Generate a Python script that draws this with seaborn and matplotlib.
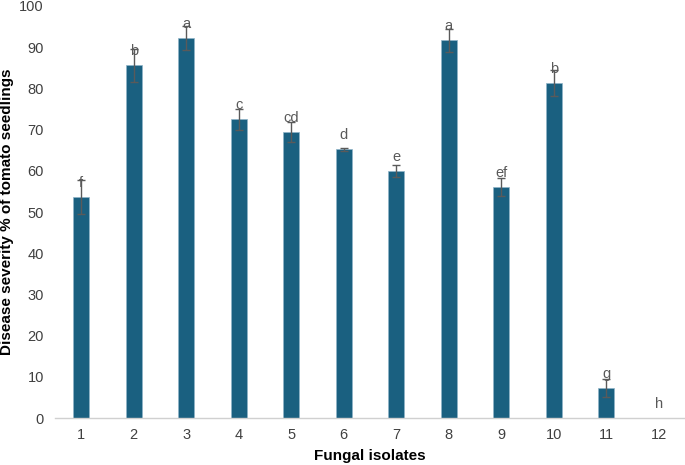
import matplotlib
matplotlib.use("Agg")
import matplotlib.pyplot as plt
import seaborn as sns
import pandas as pd

isolates = ["1", "2", "3", "4", "5", "6", "7", "8", "9", "10", "11", "12"]
severity = [53.6, 85.6, 92.2, 72.5, 69.4, 65.2, 60.0, 91.7, 56.1, 81.3, 7.2, 0.0]
errors = [4.2, 4.0, 3.0, 2.6, 2.4, 0.3, 1.45, 2.8, 2.2, 3.1, 2.2, 0.0]
letters = ["f", "b", "a", "c", "cd", "d", "e", "a", "ef", "b", "g", "h"]

df = pd.DataFrame({"isolate": isolates, "severity": severity, "err": errors})
df["pos"] = range(len(df))

sns.set_style("white")
plt.rcParams["font.family"] = ["Liberation Sans", "DejaVu Sans"]

fig = plt.figure(figsize=(6.85, 4.65), dpi=100)
ax = fig.add_axes([55 / 685, 47 / 465, 630 / 685, 412 / 465])

sns.barplot(data=df, x="isolate", y="severity", color="#1A6080", width=0.31,
            saturation=1, errorbar=None, edgecolor="#8FB4C8", linewidth=0.5, ax=ax)

eb = df[df["err"] > 0]
ax.errorbar(eb["pos"], eb["severity"], yerr=eb["err"], fmt="none", ecolor="#5A5A5A",
            elinewidth=1.0, capsize=2.6, capthick=1.0, zorder=3)

for x, v, lab in zip(df["pos"], severity, letters):
    ax.annotate(lab, (x, v), xytext=(0, 14), textcoords="offset pixels",
                ha="center", va="center", fontsize=10.5, color="#595959", zorder=4)

ax.set_ylim(0, 100)
ax.set_xlim(-0.5, len(isolates) - 0.5)
ax.set_yticks(range(0, 101, 10))
ax.tick_params(axis="both", length=0, labelsize=10.5, labelcolor="#404040")
ax.tick_params(axis="y", pad=8)
ax.tick_params(axis="x", pad=7)

for s in ["top", "right", "left"]:
    ax.spines[s].set_visible(False)
ax.spines["bottom"].set_color("#D0D0D0")
ax.spines["bottom"].set_linewidth(1.0)

ax.set_xlabel("Fungal isolates", fontsize=11, fontweight="bold", color="black", labelpad=5)
ax.set_ylabel("Disease severity % of tomato seedlings", fontsize=11, fontweight="bold",
              color="black", labelpad=4)

fig.savefig("out.png", dpi=100)
